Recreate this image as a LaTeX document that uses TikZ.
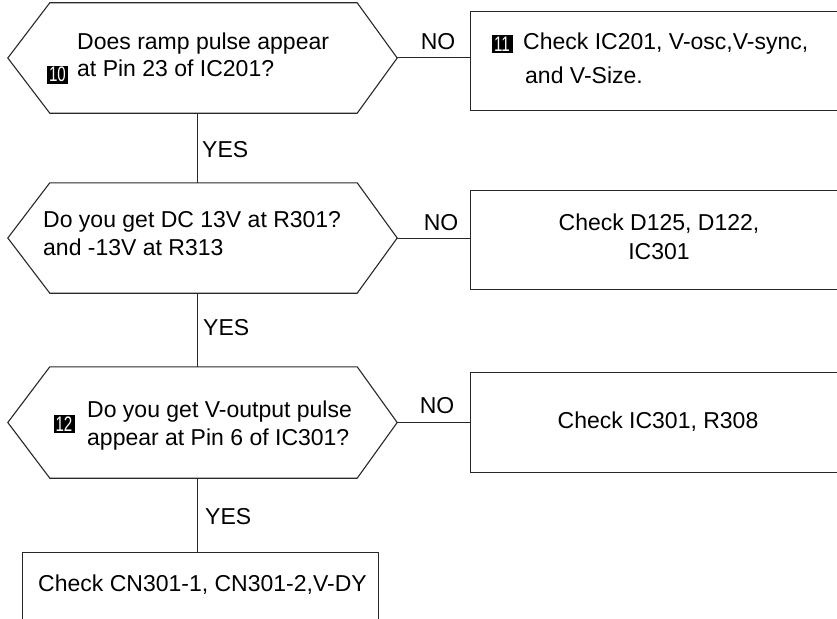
\documentclass[tikz,border=0pt]{standalone}
\usepackage{fontspec}
\setmainfont{Liberation Sans}
\usepackage{graphicx}
\definecolor{ln}{RGB}{40,40,40}
\tikzset{
 shp/.style={draw=ln, line width=1.1pt},
 wire/.style={draw=ln, line width=1pt},
 lbl/.style={font=\fontsize{23}{27}\selectfont, inner sep=0pt, anchor=base west},
 ctr/.style={lbl, anchor=base},
 badge/.style={fill=black, text=white, inner sep=0pt, minimum width=21pt, minimum height=18pt, font=\fontsize{21}{21}\selectfont},
 hexbody/.style={rectangle, inner sep=0pt, minimum width=307pt, minimum height=110pt},
 boxn/.style={shp, rectangle, inner sep=0pt, anchor=north west, minimum width=380pt, minimum height=99pt},
}
\begin{document}
\begin{tikzpicture}[x=1pt,y=-1pt]
\useasboundingbox (0,0) rectangle (837,618);
\clip (0,0) rectangle (837,618);
\fill[white] (0,0) rectangle (837,618);
\coordinate (vx) at (197.5,0);
% hexagons
\node[hexbody] (hex1) at (203.5,58) {};
\node[hexbody] (hex2) at (203.5,238) {};
\node[hexbody, minimum height=111pt] (hex3) at (203.5,422.5) {};
\foreach \h in {hex1,hex2,hex3}{
 \draw[shp] (\h.north west) -- (\h.north east) -- ([xshift=40pt]\h.east) -- (\h.south east) -- (\h.south west) -- ([xshift=-42pt]\h.west) -- cycle;
 \coordinate (\h tip) at ([xshift=40pt]\h.east);
}
% boxes
\node[boxn] (box1) at (470,11) {};
\node[boxn] (box2) at (470,190) {};
\node[boxn, minimum height=100pt] (box3) at (470,372) {};
\node[boxn, minimum width=356pt, minimum height=100pt] (box4) at (22,552) {};
% texts in hexagons
\node[lbl] (t1a) at (77,50) {Does ramp pulse appear};
\node[lbl] (t1b) at (77,77) {at Pin 23 of IC201?};
\node[badge] (b10) at (57.5,74.5) {\scalebox{0.72}[1]{10}};
\node[lbl] (t2a) at (43,227) {Do you get DC 13V at R301?};
\node[lbl] (t2b) at (43,255) {and -13V at R313};
\node[lbl] (t3a) at (87,417) {Do you get V-output pulse};
\node[lbl] (t3b) at (87,445) {appear at Pin 6 of IC301?};
\node[badge] (b12) at (64,424) {\scalebox{0.72}[1]{12}};
% texts in boxes
\node[badge] (b11) at (502,44) {\scalebox{0.72}[1]{11}};
\node[lbl] (r1a) at (523,49) {Check IC201, V-osc,V-sync,};
\node[lbl] (r1b) at (525,83) {and V-Size.};
\node[ctr] (r2a) at (659,230) {Check D125, D122,};
\node[ctr] (r2b) at (659,259) {IC301};
\node[ctr] (r3) at (658,428) {Check IC301, R308};
\node[ctr] (r4) at (202.5,591) {Check CN301-1, CN301-2,V-DY};
% connectors
\draw[wire] (hex1tip) -- (hex1tip -| box1.west);
\draw[wire] (hex2tip) -- (hex2tip -| box2.west);
\draw[wire] (hex3tip) -- (hex3tip -| box3.west);
\draw[wire] (hex1.south -| vx) -- (hex2.north -| vx);
\draw[wire] (hex2.south -| vx) -- (hex3.north -| vx);
\draw[wire] (hex3.south -| vx) -- (box4.north -| vx);
% labels
\node[ctr] (no1) at (438,50) {NO};
\node[ctr] (no2) at (441,230) {NO};
\node[ctr] (no3) at (437,413) {NO};
\node[lbl] (yes1) at (202,157) {YES};
\node[lbl] (yes2) at (203,335) {YES};
\node[lbl] (yes3) at (205,524) {YES};
\end{tikzpicture}
\end{document}
